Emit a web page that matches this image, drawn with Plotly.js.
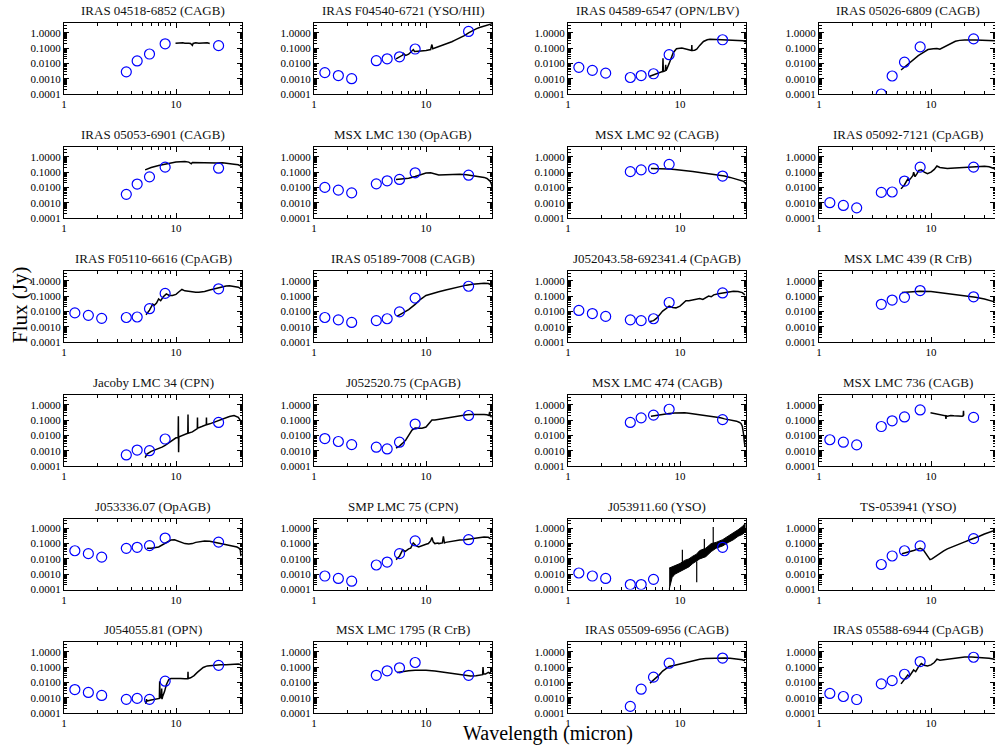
<!DOCTYPE html>
<html><head><meta charset="utf-8">
<script src="https://cdn.plot.ly/plotly-3.0.1.min.js"></script>
<style>html,body{margin:0;padding:0;background:#fff}#chart{width:995px;height:746px}</style>
</head><body><div id="chart"></div>
<script>
// ---------- DATA ----------
const titles = [
 "IRAS 04518-6852 (CAGB)","IRAS F04540-6721 (YSO/HII)","IRAS 04589-6547 (OPN/LBV)","IRAS 05026-6809 (CAGB)",
 "IRAS 05053-6901 (CAGB)","MSX LMC 130 (OpAGB)","MSX LMC 92 (CAGB)","IRAS 05092-7121 (CpAGB)",
 "IRAS F05110-6616 (CpAGB)","IRAS 05189-7008 (CAGB)","J052043.58-692341.4 (CpAGB)","MSX LMC 439 (R CrB)",
 "Jacoby LMC 34 (CPN)","J052520.75 (CpAGB)","MSX LMC 474 (CAGB)","MSX LMC 736 (CAGB)",
 "J053336.07 (OpAGB)","SMP LMC 75 (CPN)","J053911.60 (YSO)","TS-053941 (YSO)",
 "J054055.81 (OPN)","MSX LMC 1795 (R CrB)","IRAS 05509-6956 (CAGB)","IRAS 05588-6944 (CpAGB)"
];
const photWl = [1.25,1.65,2.17,3.6,4.5,5.8,8.0,24];
const xTickVals = [1,10];
const xTickText = ["1","10"];
const yTickVals = [0.0001,0.001,0.01,0.1,1];
const yTickText = ["0.0001","0.0010","0.0100","0.1000","1.0000"];

const phot1  = [null,null,null,0.0028,0.0145,0.041,0.19,0.145];
const phot2  = [0.0025,0.0016,0.001,0.015,0.02,0.027,0.087,1.23];
const phot3  = [0.0055,0.0035,0.0023,0.0012,0.0016,0.0021,0.037,0.35];
const phot4  = [null,null,null,0.0001,0.0015,0.012,0.12,0.4];
const phot5  = [null,null,null,0.0035,0.0165,0.049,0.21,0.18];
const phot6  = [0.01,0.0066,0.0044,0.017,0.027,0.033,0.09,0.063];
const phot7  = [null,null,null,0.107,0.14,0.17,0.32,0.055];
const phot8  = [0.001,0.00066,0.00046,0.0047,0.005,0.026,0.21,0.21];
const phot9  = [0.008,0.0055,0.0035,0.004,0.0043,0.015,0.15,0.3];
const phot10 = [0.004,0.0028,0.0019,0.0025,0.0033,0.0093,0.074,0.44];
const phot11 = [0.0115,0.0072,0.0047,0.0028,0.0025,0.0033,0.038,0.16];
const phot12 = [null,null,null,0.029,0.055,0.083,0.23,0.09];
const phot13 = [null,null,null,0.00053,0.0011,0.001,0.0058,0.07];
const phot14 = [0.0062,0.004,0.0025,0.0017,0.0013,0.0036,0.055,0.2];
const phot15 = [null,null,null,0.07,0.14,0.21,0.51,0.107];
const phot16 = [0.0052,0.0036,0.0024,0.038,0.09,0.16,0.46,0.15];
const phot17 = [0.034,0.022,0.013,0.049,0.057,0.074,0.23,0.125];
const phot18 = [0.00076,0.00053,0.00035,0.004,0.0062,0.022,0.15,0.18];
const phot19 = [0.0012,0.00076,0.00053,0.00021,0.00021,0.00046,null,0.057];
const phot20 = [null,null,null,0.0043,0.0155,0.034,0.07,0.21];
const phot21 = [0.0034,0.0022,0.0014,0.00078,0.0009,0.00078,0.012,0.13];
const phot22 = [null,null,null,0.029,0.057,0.09,0.2,0.029];
const phot23 = [null,null,null,0.00027,0.0036,0.022,0.18,0.39];
const phot24 = [0.0019,0.0012,0.00076,0.008,0.013,0.034,0.23,0.44];

const specW1 = [9.9,10.5,11,11.5,12,12.5,13,13.5,14,14.2,14.5,15,16,17,18,19,20];
const specF1 = [0.21,0.22,0.21,0.22,0.21,0.22,0.21,0.2,0.15,0.2,0.21,0.22,0.21,0.22,0.21,0.22,0.2];
const specW2 = [5.4,5.8,6.2,6.3,6.6,7.0,7.5,7.7,7.9,8.3,9,10,11,11.2,11.3,11.5,12,13,14,15,16,17,18,20,22,24,26,28,30,33,36,39];
const specF2 = [0.02,0.026,0.035,0.045,0.033,0.04,0.06,0.08,0.06,0.06,0.065,0.07,0.08,0.14,0.17,0.09,0.1,0.12,0.15,0.18,0.22,0.26,0.32,0.45,0.65,1.0,1.4,1.8,2.2,2.8,3.4,3.9];
const specW3 = [5.3,5.8,6.3,6.8,7.0,7.05,7.1,7.3,7.4,7.45,7.5,7.6,8.0,8.4,8.7,9.3,10.4,11.5,12.5,12.7,12.75,12.8,13.5,14.1,15,16.2,17.5,18.5,21,26,31,36.7,39,40];
const specF3 = [0.0014,0.0018,0.0022,0.0026,0.003,0.022,0.003,0.0032,0.0034,0.008,0.0034,0.004,0.01,0.03,0.05,0.09,0.1,0.085,0.07,0.07,0.16,0.07,0.072,0.085,0.15,0.27,0.35,0.38,0.37,0.35,0.32,0.3,0.25,0.17];
const specW4 = [5.4,6,6.5,7,7.7,8.5,9.4,10.5,11.3,12,12.5,13.5,14.5,15.5,16.5,18,20,25,30,35,40];
const specF4 = [0.0037,0.007,0.012,0.018,0.032,0.05,0.08,0.09,0.095,0.085,0.1,0.14,0.17,0.22,0.28,0.32,0.34,0.34,0.33,0.32,0.3];
const specW5 = [5.3,6,7,8,9,10,11,12,13,13.7,14,15,17,20,23,26,30,33,36,38,40];
const specF5 = [0.14,0.2,0.27,0.33,0.4,0.45,0.48,0.5,0.45,0.35,0.43,0.42,0.4,0.38,0.4,0.41,0.38,0.33,0.3,0.25,0.2];
const specW6 = [5.4,6,7,8,9,10,11,12,13,15,18,20,23,25,28,30,33,35,36.5,37.5,38.5,39.5];
const specF6 = [0.033,0.035,0.04,0.052,0.07,0.088,0.09,0.075,0.065,0.068,0.075,0.073,0.068,0.063,0.058,0.055,0.045,0.038,0.03,0.025,0.015,0.006];
const specW7 = [5.5,6,7,8,9,10,11,12,13,15,17,20,22,25,28,30,33,35,37,38,39];
const specF7 = [0.17,0.17,0.165,0.16,0.15,0.14,0.13,0.12,0.11,0.095,0.085,0.072,0.065,0.055,0.045,0.04,0.033,0.03,0.025,0.02,0.015];
const specW8 = [5.4,5.8,6.2,6.4,6.7,6.9,7.0,7.2,7.5,7.8,8.2,8.7,9.3,10,10.7,11.3,12,13,14,15,17,20,23,25,28,30,33,36,38];
const specF8 = [0.008,0.015,0.035,0.03,0.045,0.06,0.1,0.05,0.08,0.13,0.14,0.1,0.08,0.1,0.15,0.25,0.2,0.18,0.17,0.18,0.19,0.2,0.22,0.23,0.24,0.24,0.22,0.18,0.14];
const specW9 = [5.4,5.8,6.2,6.4,6.7,7.0,7.3,7.7,8.2,8.7,9.3,10,10.7,11.3,12,13,14,15,16,17,18,20,22,25,28,30,33,36,38];
const specF9 = [0.006,0.012,0.03,0.025,0.035,0.065,0.05,0.09,0.14,0.11,0.11,0.13,0.2,0.27,0.22,0.2,0.19,0.18,0.18,0.19,0.2,0.25,0.3,0.38,0.45,0.48,0.45,0.38,0.3];
const specW10 = [5.5,6,6.5,7,8,9,10,11,12,13,15,17,20,23,26,30,33,36,38];
const specF10 = [0.0047,0.0065,0.009,0.013,0.029,0.064,0.11,0.14,0.16,0.19,0.25,0.32,0.42,0.52,0.6,0.68,0.7,0.66,0.55];
const specW11 = [5.4,5.8,6.2,6.6,7.0,7.5,8.0,8.6,9.2,10,10.7,11.3,12,13,14,15,16,17,18,19,20,22,25,28,30,33,36,38];
const specF11 = [0.0022,0.0025,0.0036,0.006,0.0104,0.015,0.022,0.018,0.017,0.022,0.035,0.05,0.05,0.055,0.06,0.07,0.06,0.08,0.1,0.09,0.12,0.14,0.17,0.2,0.21,0.2,0.17,0.12];
const specW12 = [5.5,6.5,8,10,12,15,18,20,25,30,35,37];
const specF12 = [0.17,0.19,0.21,0.2,0.17,0.14,0.12,0.107,0.083,0.064,0.05,0.042];
const specW13 = [5.3,5.5,6,6.5,7,7.5,8,8.5,9,9.5,10,10.45,10.5,10.55,10.6,10.65,11,12,12.75,12.8,12.85,14,15.5,15.55,15.6,17,18.65,18.7,18.75,20,22,25,28,30,33,36,38];
const specF13 = [0.00035,0.0006,0.0009,0.0011,0.0013,0.0017,0.0022,0.003,0.0045,0.006,0.007,0.007,0.18,0.0008,0.007,0.008,0.009,0.011,0.014,0.23,0.014,0.017,0.028,0.15,0.03,0.038,0.05,0.15,0.05,0.057,0.075,0.107,0.14,0.17,0.2,0.15,0.083];
const specW14 = [5.4,5.8,6.2,6.6,7.0,7.5,8.0,8.6,9.2,10,10.7,11.3,12,13,14,15,17,20,23,25,28,30,33,35,36.5,37,37.5,38.5];
const specF14 = [0.0015,0.002,0.0031,0.005,0.01,0.022,0.03,0.028,0.029,0.035,0.06,0.1,0.1,0.11,0.12,0.13,0.15,0.2,0.22,0.23,0.24,0.24,0.23,0.22,0.2,0.35,0.2,0.15];
const specW15 = [5.5,6,7,8,9,10,11,12,13,14,15,17,20,23,25,28,30,32,34,35,36,36.5,37,37.5,38];
const specF15 = [0.18,0.2,0.24,0.27,0.29,0.3,0.3,0.28,0.26,0.22,0.21,0.19,0.16,0.14,0.12,0.105,0.095,0.085,0.07,0.06,0.04,0.025,0.011,0.004,0.002];
const specW16 = [9.9,10.5,11,11.5,12,12.5,13,13.5,13.6,13.7,14,15,16,17,18,19,19.4,19.5,19.6];
const specF16 = [0.3,0.28,0.27,0.25,0.23,0.22,0.2,0.19,0.12,0.19,0.18,0.2,0.19,0.18,0.19,0.18,0.19,0.4,0.2];
const specW17 = [5.5,6,7,8,8.5,9,9.7,10.5,11.3,12,13,14,15,17,18,20,22,25,28,30,33,35,36.5,37.5,38];
const specF17 = [0.049,0.05,0.06,0.1,0.14,0.17,0.18,0.15,0.12,0.1,0.095,0.1,0.12,0.14,0.15,0.14,0.12,0.1,0.09,0.08,0.07,0.06,0.05,0.04,0.015];
const specW18 = [5.4,5.8,6.2,6.5,7.0,7.3,7.7,8.2,8.6,9.0,10,10.5,11.0,11.3,11.6,12,12.8,13,14,14.3,14.6,15,16,17,18,20,22,25,28,30,33,36,38];
const specF18 = [0.009,0.015,0.04,0.03,0.045,0.05,0.11,0.07,0.06,0.07,0.09,0.1,0.15,0.25,0.13,0.1,0.11,0.1,0.11,0.3,0.11,0.12,0.13,0.15,0.15,0.17,0.18,0.2,0.23,0.26,0.27,0.26,0.2];
// J053911.60: very noisy spectrum drawn as a filled band (lower / upper envelope) plus spikes
const bandW19 = [8.0,8.5,9,10,11,12,13,14,15,17,19,21,24,27,30,33,36,38.5];
const bandLo19 = [0.0001,0.0006,0.001,0.0015,0.0022,0.003,0.005,0.007,0.01,0.014,0.03,0.05,0.07,0.12,0.18,0.3,0.4,0.6];
const bandHi19 = [0.0025,0.003,0.0035,0.005,0.008,0.01,0.015,0.02,0.035,0.05,0.1,0.12,0.18,0.3,0.5,0.8,1.3,2.2];
const spikeW19 = [10.5,10.5,null,14.1,14.1,null,19.8,19.8,null,16.5,16.5];
const spikeF19 = [0.003,0.04,null,0.007,0.0003,null,0.1,1.2,null,0.04,0.2];
const specW20 = [5.5,6,6.5,7,7.5,8,8.5,9,9.5,9.8,10.2,11,12,13,14,16,18,20,22,24,27,30,33,36,39];
const specF20 = [0.022,0.025,0.03,0.035,0.042,0.05,0.04,0.022,0.012,0.009,0.01,0.015,0.024,0.033,0.045,0.07,0.1,0.13,0.17,0.21,0.3,0.42,0.55,0.7,0.85];
const specW21 = [5.3,5.4,5.45,5.5,6,6.5,7,7.1,7.15,7.2,7.4,7.45,7.5,7.6,7.9,8.2,8.6,9,10,11,12,12.75,12.8,12.85,13.5,14.5,15.5,16.5,17.5,19,21,25,28,30,33,35,36,37.5,38.5];
const specF21 = [0.0006,0.0004,0.0008,0.0006,0.0007,0.0008,0.0009,0.0009,0.012,0.001,0.001,0.004,0.0008,0.0012,0.0025,0.007,0.015,0.018,0.019,0.018,0.017,0.017,0.05,0.018,0.02,0.028,0.045,0.07,0.095,0.12,0.13,0.14,0.14,0.145,0.15,0.17,0.16,0.15,0.12];
const specW22 = [5.5,6,7,8,9,10,12,14,16,18,20,22,25,28,30,31,32,32.3,32.6,34,36,37,38];
const specF22 = [0.044,0.05,0.057,0.062,0.064,0.063,0.055,0.047,0.04,0.035,0.031,0.028,0.026,0.027,0.029,0.03,0.032,0.1,0.035,0.035,0.045,0.04,0.05];
const specW23 = [5.4,6,6.5,7,7.5,8,9,10,11.3,12,13,14,15,17,20,23,25,28,30,33,36,38];
const specF23 = [0.009,0.017,0.03,0.055,0.08,0.11,0.13,0.16,0.2,0.22,0.26,0.3,0.33,0.37,0.39,0.4,0.4,0.38,0.36,0.34,0.3,0.26];
const specW24 = [5.4,5.8,6.2,6.4,6.7,7.0,7.3,7.7,8.2,8.7,9.3,10,10.7,11.3,12,13,14,15,17,20,23,25,28,30,33,36,38];
const specF24 = [0.008,0.015,0.03,0.025,0.04,0.065,0.05,0.1,0.17,0.13,0.12,0.14,0.2,0.33,0.28,0.3,0.3,0.33,0.38,0.45,0.45,0.44,0.42,0.4,0.38,0.34,0.3];

const phots = [phot1,phot2,phot3,phot4,phot5,phot6,phot7,phot8,phot9,phot10,phot11,phot12,
               phot13,phot14,phot15,phot16,phot17,phot18,phot19,phot20,phot21,phot22,phot23,phot24];
const specWs = [specW1,specW2,specW3,specW4,specW5,specW6,specW7,specW8,specW9,specW10,specW11,specW12,
                specW13,specW14,specW15,specW16,specW17,specW18,null,specW20,specW21,specW22,specW23,specW24];
const specFs = [specF1,specF2,specF3,specF4,specF5,specF6,specF7,specF8,specF9,specF10,specF11,specF12,
                specF13,specF14,specF15,specF16,specF17,specF18,null,specF20,specF21,specF22,specF23,specF24];

// ---------- LAYOUT ----------
const W = 995, H = 746;
const colLeft = [64, 314, 568, 819];
const rowTop = [23, 147, 271, 395, 518.5, 642];
const boxW = 178, boxH = 71, pxPerDec = 112;
const serif = "Liberation Serif, Times New Roman, serif";

const xMinor = [2,3,4,5,6,7,8,9,20,30,40];
const yMinor = [];
[-4,-3,-2,-1,0].forEach(e => { for (let k=2;k<=9;k++) yMinor.push(k*Math.pow(10,e)); });

const traces = [];
const layout = {
  width: W, height: H, margin: {l:0,r:0,t:0,b:0},
  paper_bgcolor: "white", plot_bgcolor: "white", showlegend: false,
  annotations: []
};

for (let i = 0; i < 24; i++) {
  const r = Math.floor(i/4), c = i % 4;
  const xn = i === 0 ? "x" : "x" + (i+1);
  const yn = i === 0 ? "y" : "y" + (i+1);
  const left = colLeft[c];
  const right = Math.min(left + boxW, W);
  const top = rowTop[r], bot = top + boxH;
  const xr = (right - left) / pxPerDec;
  const axBase = {
    showline: true, linecolor: "black", linewidth: 1, mirror: "allticks",
    ticks: "inside", ticklen: 5, tickwidth: 1, tickcolor: "black",
    showgrid: false, zeroline: false, type: "log",
    tickfont: {family: serif, size: 11, color: "black"},
    tickmode: "array"
  };
  layout["xaxis" + (i===0 ? "" : i+1)] = Object.assign({}, axBase, {
    domain: [left / W, right / W], anchor: yn, range: [0, xr],
    tickvals: xTickVals, ticktext: xTickText,
    minor: {tickmode: "array", tickvals: xMinor, ticks: "inside", ticklen: 3, tickcolor: "black", showgrid: false}
  });
  layout["yaxis" + (i===0 ? "" : i+1)] = Object.assign({}, axBase, {
    domain: [1 - bot / H, 1 - top / H], anchor: xn, range: [-4, 0.64],
    tickvals: yTickVals, ticktext: yTickText,
    minor: {tickmode: "array", tickvals: yMinor, ticks: "inside", ticklen: 2.5, tickcolor: "black", showgrid: false}
  });
  layout.annotations.push({
    text: titles[i], xref: "paper", yref: "paper", showarrow: false,
    x: (colLeft[c] + boxW/2) / W, y: 1 - (top - 3) / H, xanchor: "center", yanchor: "bottom",
    font: {family: serif, size: 13, color: "#111"}
  });

  if (i === 18) {
    traces.push({x: bandW19, y: bandLo19, xaxis: xn, yaxis: yn, mode: "lines",
      line: {color: "black", width: 1}, hoverinfo: "skip"});
    traces.push({x: bandW19, y: bandHi19, xaxis: xn, yaxis: yn, mode: "lines", fill: "tonexty",
      fillcolor: "black", line: {color: "black", width: 1}, hoverinfo: "skip"});
    traces.push({x: spikeW19, y: spikeF19, xaxis: xn, yaxis: yn, mode: "lines",
      line: {color: "black", width: 1.2}, connectgaps: false});
  } else {
    traces.push({x: specWs[i], y: specFs[i], xaxis: xn, yaxis: yn, mode: "lines",
      line: {color: "black", width: 1.5}});
  }
  traces.push({x: photWl, y: phots[i], xaxis: xn, yaxis: yn, mode: "markers",
    marker: {symbol: "circle-open", size: 10, color: "#0000ff", line: {width: 1.2, color: "#0000ff"}}});
}

layout.annotations.push({
  text: "Flux (Jy)", xref: "paper", yref: "paper", showarrow: false, textangle: -90,
  x: 20 / W, y: 1 - 305 / H, xanchor: "center", yanchor: "middle",
  font: {family: serif, size: 21, color: "black"}
});
layout.annotations.push({
  text: "Wavelength (micron)", xref: "paper", yref: "paper", showarrow: false,
  x: 548 / W, y: 0, xanchor: "center", yanchor: "bottom", borderpad: 0,
  font: {family: serif, size: 20, color: "black"}
});

Plotly.newPlot("chart", traces, layout, {staticPlot: true, displayModeBar: false});
</script>
</body></html>
